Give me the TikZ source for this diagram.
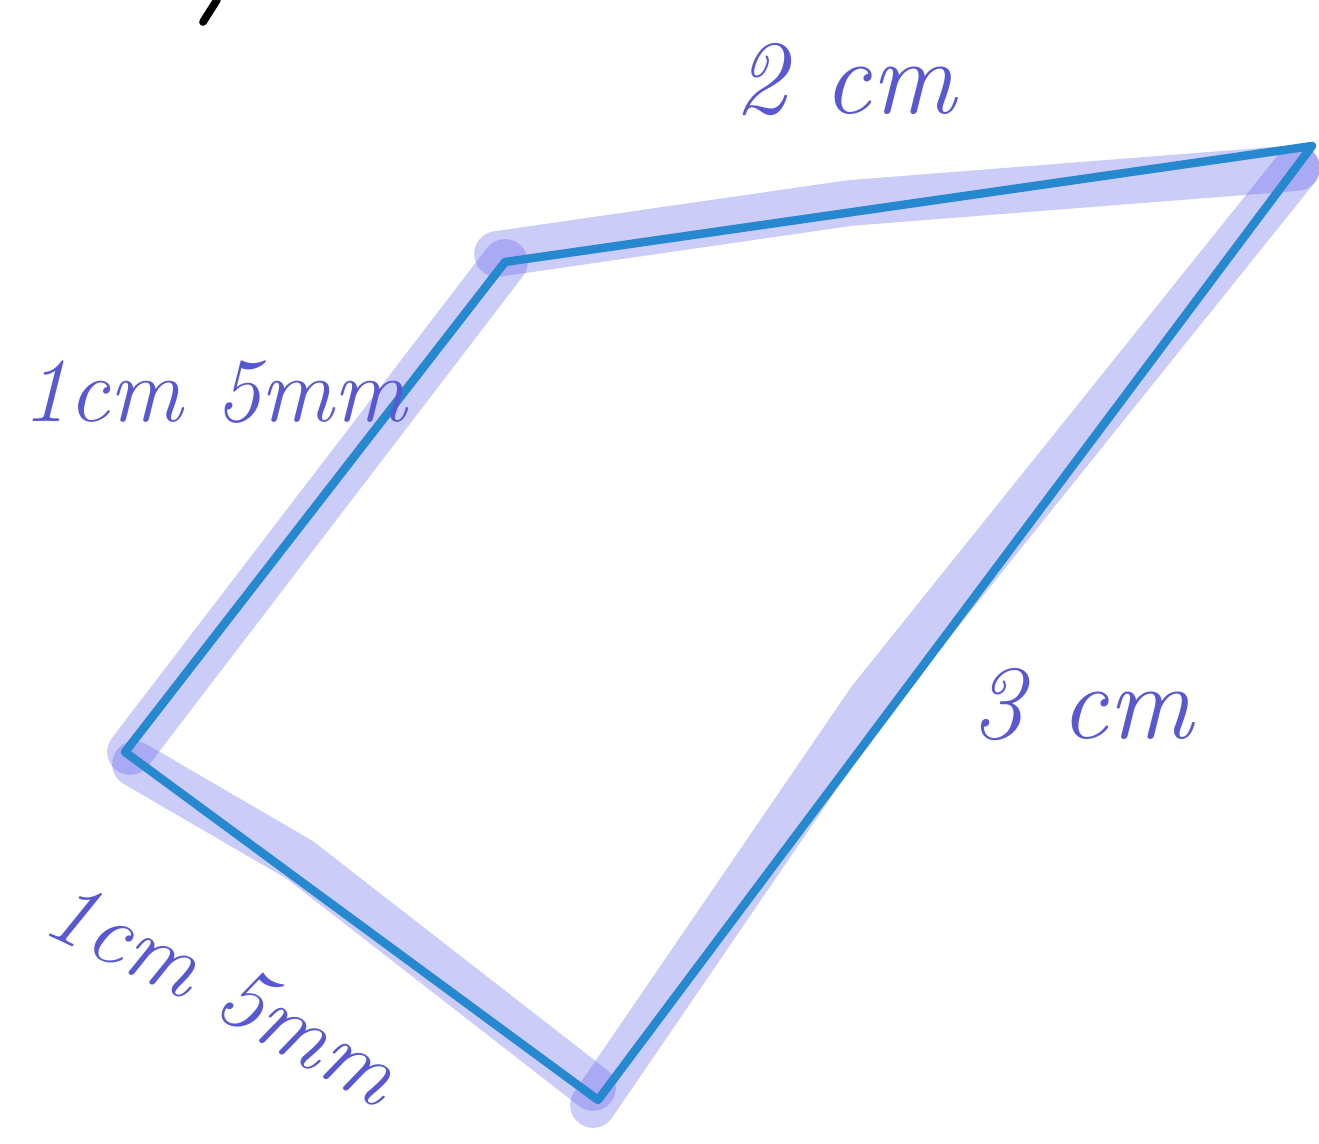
\documentclass[tikz,border=0pt]{standalone}
\usetikzlibrary{calc}
\definecolor{edgeblue}{RGB}{38,136,206}
\definecolor{hilite}{RGB}{100,100,235}
\definecolor{ink}{RGB}{88,88,210}
\tikzset{
  edge/.style={draw=edgeblue, line width=2.4pt, line cap=round, line join=round},
  band/.style={draw=hilite, draw opacity=0.33, line width=13pt, line cap=round, line join=round},
  lbl/.style={text=ink, font=\fontsize{30}{36}\selectfont\itshape, inner sep=0pt},
  smalllbl/.style={lbl, font=\fontsize{26}{30}\selectfont\itshape},
}
\begin{document}
\begin{tikzpicture}[x=0.01cm, y=-0.01cm]
\useasboundingbox (0,0) rectangle (1319,1143);
% vertices
\coordinate (A) at (505,262);
\coordinate (B) at (1312,146);
\coordinate (C) at (598,1100);
\coordinate (D) at (125,752);
% highlight bands
\draw[band] ($(A)+(-8,-8)$) -- (850,203) -- ($(B)+(-15,22)$);
\draw[band] ($(A)+(0,0)$) -- ($(D)+(5,0)$);
\draw[band] ($(D)+(10,12)$) -- (300,860) -- ($(C)+(-5,-12)$);
\draw[band] ($(B)+(-15,22)$) -- (870,700) -- ($(C)+(-5,5)$);
% quadrilateral
\draw[edge] (A) -- (B) -- (C) -- (D) -- cycle;
% labels
\node[lbl] (l1) at (845,80) {2 cm};
\node[smalllbl] (l2) at (215,392) {1cm 5mm};
\node[lbl] (l3) at (1082,705) {3 cm};
\node[smalllbl, rotate=-25] (l4a) at (125,938) {1cm};
\node[smalllbl, rotate=-30] (l4b) at (308,1035) {5mm};
% partial mark at top
\draw[black, line width=2.2pt, line cap=round] (203,22) -- (217,0);
\end{tikzpicture}
\end{document}
